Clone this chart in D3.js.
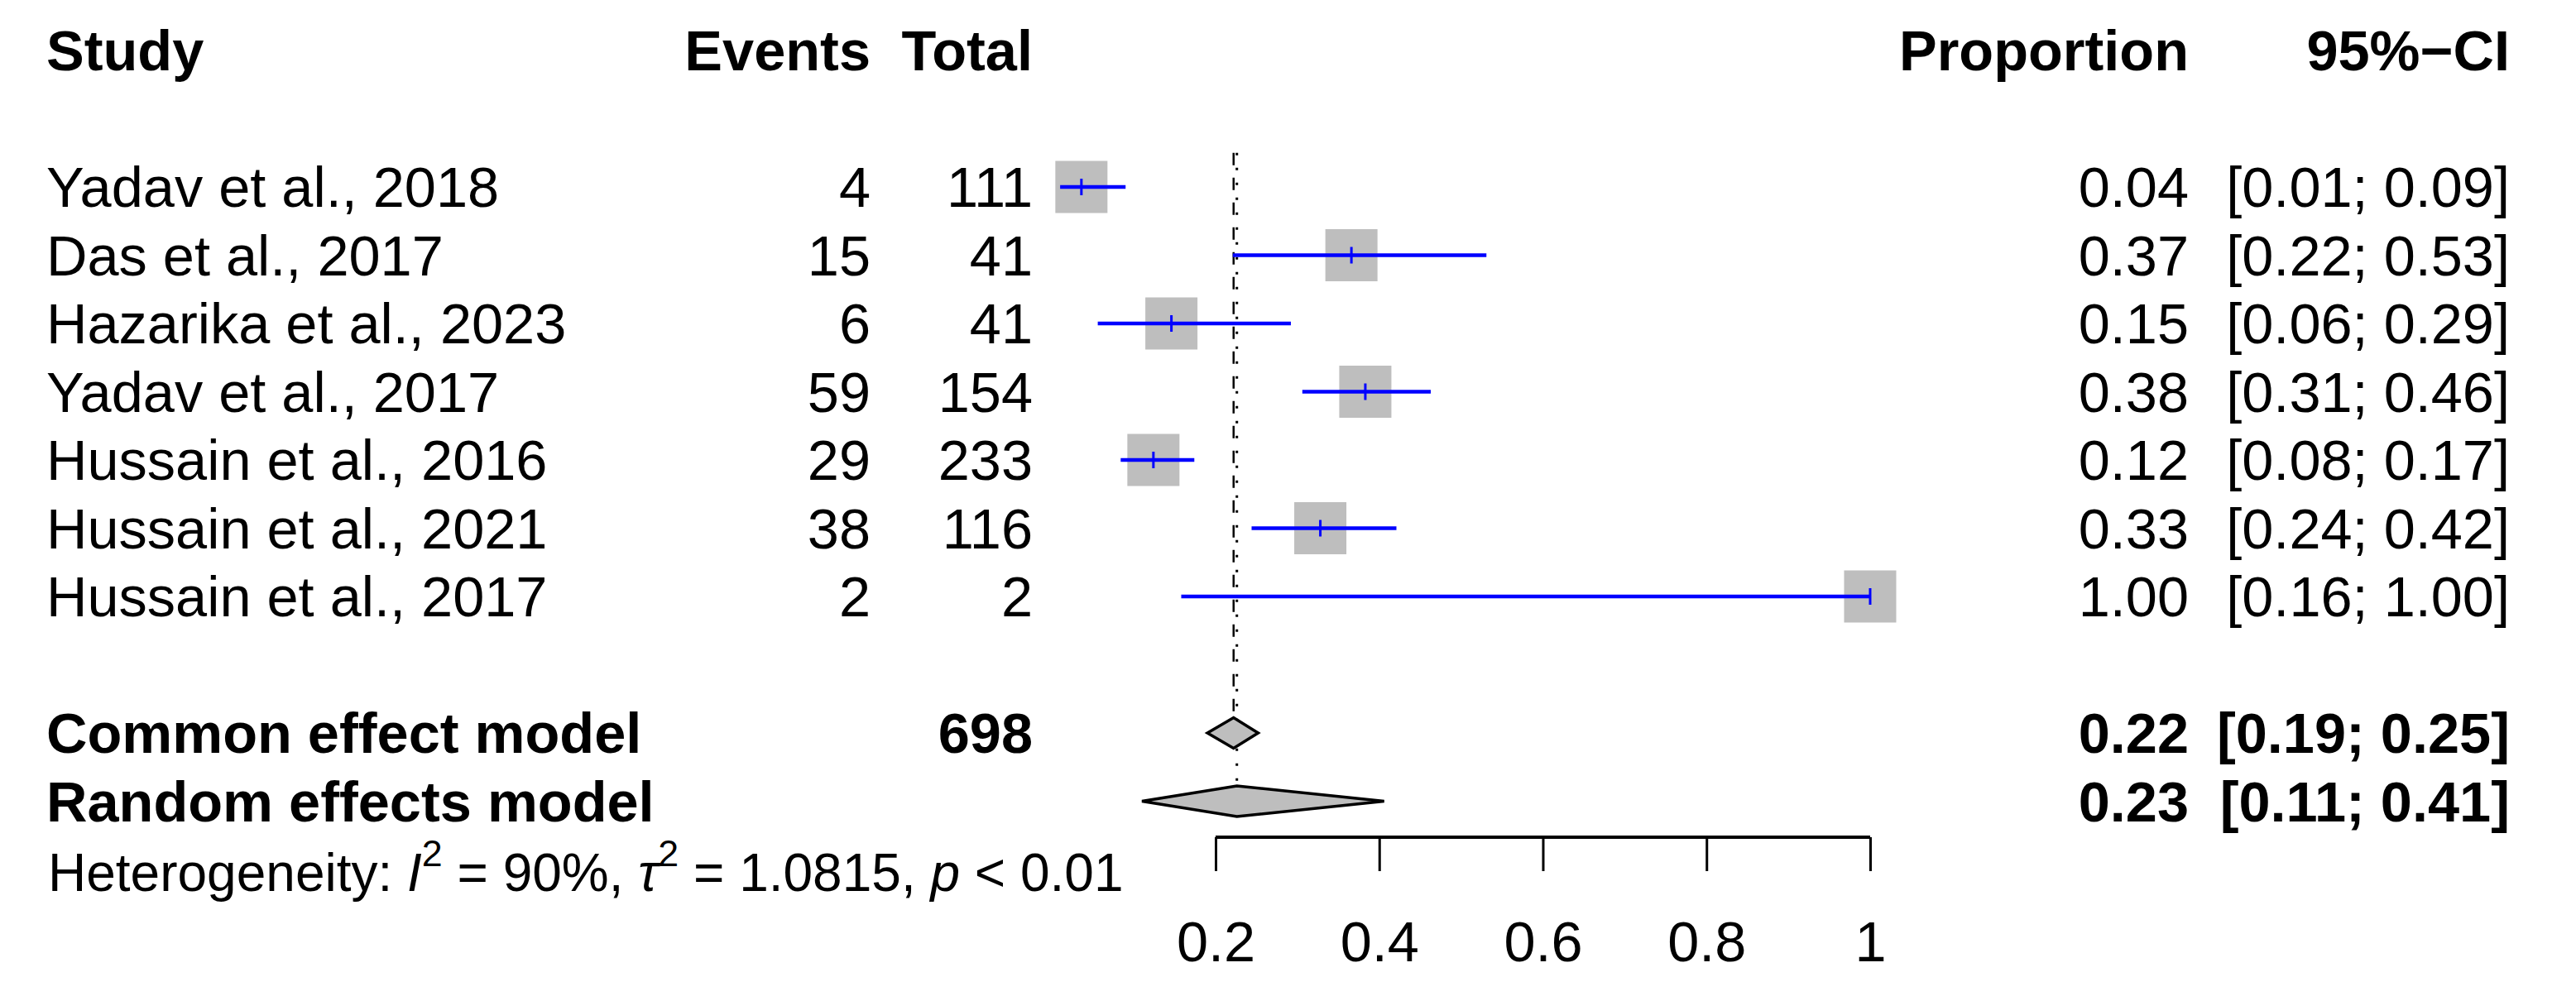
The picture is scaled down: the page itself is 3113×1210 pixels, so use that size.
<!DOCTYPE html>
<html><head><meta charset="utf-8">
<script src="https://cdn.jsdelivr.net/npm/d3@7"></script>
<style>body{margin:0;background:#fff}svg{display:block}</style>
</head><body>
<svg id="c" width="3113" height="1210"></svg>
<script>
// ---- data ----
const studies = ["Yadav et al., 2018","Das et al., 2017","Hazarika et al., 2023","Yadav et al., 2017","Hussain et al., 2016","Hussain et al., 2021","Hussain et al., 2017"];
const events = [4,15,6,59,29,38,2];
const totals = [111,41,41,154,233,116,2];
const proportion = [0.036,0.366,0.146,0.383,0.124,0.328,1.00];
const ciLower = [0.010,0.221,0.056,0.306,0.084,0.244,0.158];
const ciUpper = [0.090,0.531,0.292,0.463,0.174,0.421,1.000];
const modelLabels = ["Common effect model","Random effects model"];
const modelTotals = ["698",""];
const modelEst = [0.222,0.226];
const modelLower = [0.190,0.110];
const modelUpper = [0.252,0.406];
const tickValues = [0.2,0.4,0.6,0.8,1];
const tickLabels = ["0.2","0.4","0.6","0.8","1"];
const headers = ["Study","Events","Total","Proportion","95%\u2212CI"];

// ---- layout ----
const W = 3113, H = 1210;
const FONT = "'Liberation Sans', Arial, Helvetica, sans-serif";
const FS = 68.5;
const svg = d3.select("#c");
svg.append("rect").attr("width",W).attr("height",H).attr("fill","#fff");

const x = d3.scaleLinear().domain([0,1]).range([1271.25,2260]);
const row = d3.scaleLinear().domain([0,12]).range([61,61+12*82.5]);
const base = r => row(r) + 24;
const colStudy = 56, colEvents = 1052, colTotal = 1248, colProp = 2645, colCI = 3033;
const fmt2 = d3.format(".2f");
const ciText = (lo,hi) => "[" + fmt2(lo) + "; " + fmt2(hi) + "]";

function txt(g, s, xx, yy, anchor, bold){
  return g.append("text").attr("x",xx).attr("y",yy).attr("text-anchor",anchor)
    .attr("font-family",FONT).attr("font-size",FS).attr("font-weight",bold?"bold":"normal")
    .attr("fill","#000").text(s);
}

// headers
const hg = svg.append("g");
txt(hg, headers[0], colStudy, base(0), "start", true);
txt(hg, headers[1], colEvents, base(0), "end", true);
txt(hg, headers[2], colTotal, base(0), "end", true);
txt(hg, headers[3], colProp, base(0), "end", true);
txt(hg, headers[4], colCI, base(0), "end", true);

// reference lines
const diaH = 18.5;
svg.append("line").attr("x1",x(modelEst[0])).attr("x2",x(modelEst[0]))
  .attr("y1",row(1.5)).attr("y2",row(10)-diaH)
  .attr("stroke","#000").attr("stroke-width",2.5).attr("stroke-dasharray","15,15");
svg.append("line").attr("x1",x(modelEst[1])).attr("x2",x(modelEst[1]))
  .attr("y1",row(1.5)).attr("y2",row(11)-diaH)
  .attr("stroke","#000").attr("stroke-width",3).attr("stroke-dasharray","3,15");

// study rows
const boxSize = 63;
const sg = svg.append("g");
studies.forEach((s,i) => {
  const r = i + 2, cy = row(r);
  txt(sg, s, colStudy, base(r), "start", false);
  txt(sg, String(events[i]), colEvents, base(r), "end", false);
  txt(sg, String(totals[i]), colTotal, base(r), "end", false);
  txt(sg, fmt2(proportion[i]), colProp, base(r), "end", false);
  txt(sg, ciText(ciLower[i], ciUpper[i]), colCI, base(r), "end", false);
  sg.append("rect").attr("x",x(proportion[i])-boxSize/2).attr("y",cy-boxSize/2)
    .attr("width",boxSize).attr("height",boxSize).attr("fill","#bebebe");
  sg.append("line").attr("x1",x(ciLower[i])).attr("x2",x(ciUpper[i]))
    .attr("y1",cy).attr("y2",cy).attr("stroke","#0000ff").attr("stroke-width",4.5);
  sg.append("line").attr("x1",x(proportion[i])).attr("x2",x(proportion[i]))
    .attr("y1",cy-10).attr("y2",cy+10).attr("stroke","#0000ff").attr("stroke-width",3);
});

// models
const mg = svg.append("g");
modelLabels.forEach((m,i) => {
  const r = 10 + i, cy = row(r);
  txt(mg, m, colStudy, base(r), "start", true);
  if (modelTotals[i]) txt(mg, modelTotals[i], colTotal, base(r), "end", true);
  txt(mg, fmt2(modelEst[i]), colProp, base(r), "end", true);
  txt(mg, ciText(modelLower[i], modelUpper[i]), colCI, base(r), "end", true);
  const pts = [[x(modelLower[i]),cy],[x(modelEst[i]),cy-diaH],[x(modelUpper[i]),cy],[x(modelEst[i]),cy+diaH]];
  mg.append("polygon").attr("points", pts.map(p=>p.join(",")).join(" "))
    .attr("fill","#bebebe").attr("stroke","#000").attr("stroke-width",3.5).attr("stroke-linejoin","miter");
});

// heterogeneity
const HFS = 64;
const ht = svg.append("text").attr("x",58).attr("y",base(12)+2)
  .attr("font-family",FONT).attr("font-size",HFS).attr("fill","#000");
ht.append("tspan").text("Heterogeneity: ");
ht.append("tspan").attr("font-style","italic").text("I");
ht.append("tspan").attr("font-size",HFS*0.7).attr("dy",-30).text("2");
ht.append("tspan").attr("dy",30).text(" = 90%, ");
ht.append("tspan").attr("font-style","italic").text("\u03c4");
ht.append("tspan").attr("font-size",HFS*0.7).attr("dy",-30).text("2");
ht.append("tspan").attr("dy",30).text(" = 1.0815, ");
ht.append("tspan").attr("font-style","italic").text("p");
ht.append("tspan").text(" < 0.01");

// axis
const axisY = 1012;
const ag = svg.append("g").attr("transform",`translate(0,${axisY})`)
  .call(d3.axisBottom(x).tickValues(tickValues).tickSize(41).tickSizeOuter(0)
    .tickFormat((d,i)=>tickLabels[i]));
ag.select(".domain").attr("d",`M${x(tickValues[0])},0H${x(tickValues[tickValues.length-1])}`)
  .attr("stroke","#000").attr("stroke-width",4);
ag.selectAll(".tick line").attr("stroke","#000").attr("stroke-width",3);
ag.selectAll(".tick text").attr("y",150).attr("dy",0)
  .attr("font-family",FONT).attr("font-size",FS).attr("fill","#000");
</script>
</body></html>
